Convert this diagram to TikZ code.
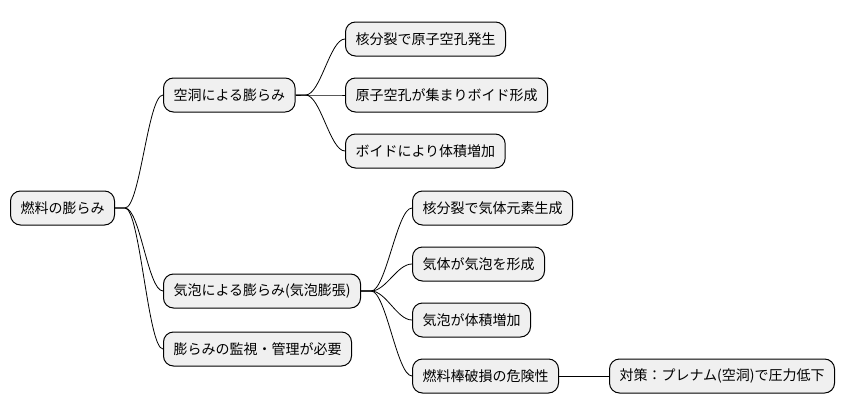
\documentclass[tikz,border=0pt]{standalone}
\usepackage{fontspec}
\setmainfont{Noto Sans CJK JP}
\begin{document}
\begin{tikzpicture}[x=1pt, y=-1pt,
    topic/.style={draw, line width=1pt, fill=black!6, rounded corners=10pt,
        anchor=west, minimum height=34pt, inner xsep=10pt,
        font=\fontsize{14}{16}\selectfont},
    branch/.style={line width=.8pt}]
    \useasboundingbox (0,0) rectangle (846,415);
    % root and first level
    \node[topic] (root) at (10,208) {燃料の膨らみ};
    \node[topic] (void) at (163,95) {空洞による膨らみ};
    \node[topic] (gas) at (163,291) {気泡による膨らみ(気泡膨張)};
    \node[topic] (watch) at (163,349) {膨らみの監視・管理が必要};
    % voids
    \node[topic] (v1) at (345,39) {核分裂で原子空孔発生};
    \node[topic] (v2) at (345,95) {原子空孔が集まりボイド形成};
    \node[topic] (v3) at (345,151) {ボイドにより体積増加};
    % gas bubbles
    \node[topic] (g1) at (412,208) {核分裂で気体元素生成};
    \node[topic] (g2) at (412,264) {気体が気泡を形成};
    \node[topic] (g3) at (412,320) {気泡が体積増加};
    \node[topic] (g4) at (412,376) {燃料棒破損の危険性};
    \node[topic] (fix) at (609,376) {対策：プレナム(空洞)で圧力低下};
    % branches
    \foreach \c in {void, gas, watch}
        \draw[branch] (root.east) -- ++(10,0) .. controls +(15,0) and +(-15,0) .. (\c.west);
    \foreach \c in {v1, v2, v3}
        \draw[branch] (void.east) -- ++(10,0) .. controls +(15,0) and +(-15,0) .. (\c.west);
    \foreach \c in {g1, g2, g3, g4}
        \draw[branch] (gas.east) -- ++(10,0) .. controls +(15,0) and +(-15,0) .. (\c.west);
    \draw[branch] (g4) -- (fix);
\end{tikzpicture}
\end{document}
